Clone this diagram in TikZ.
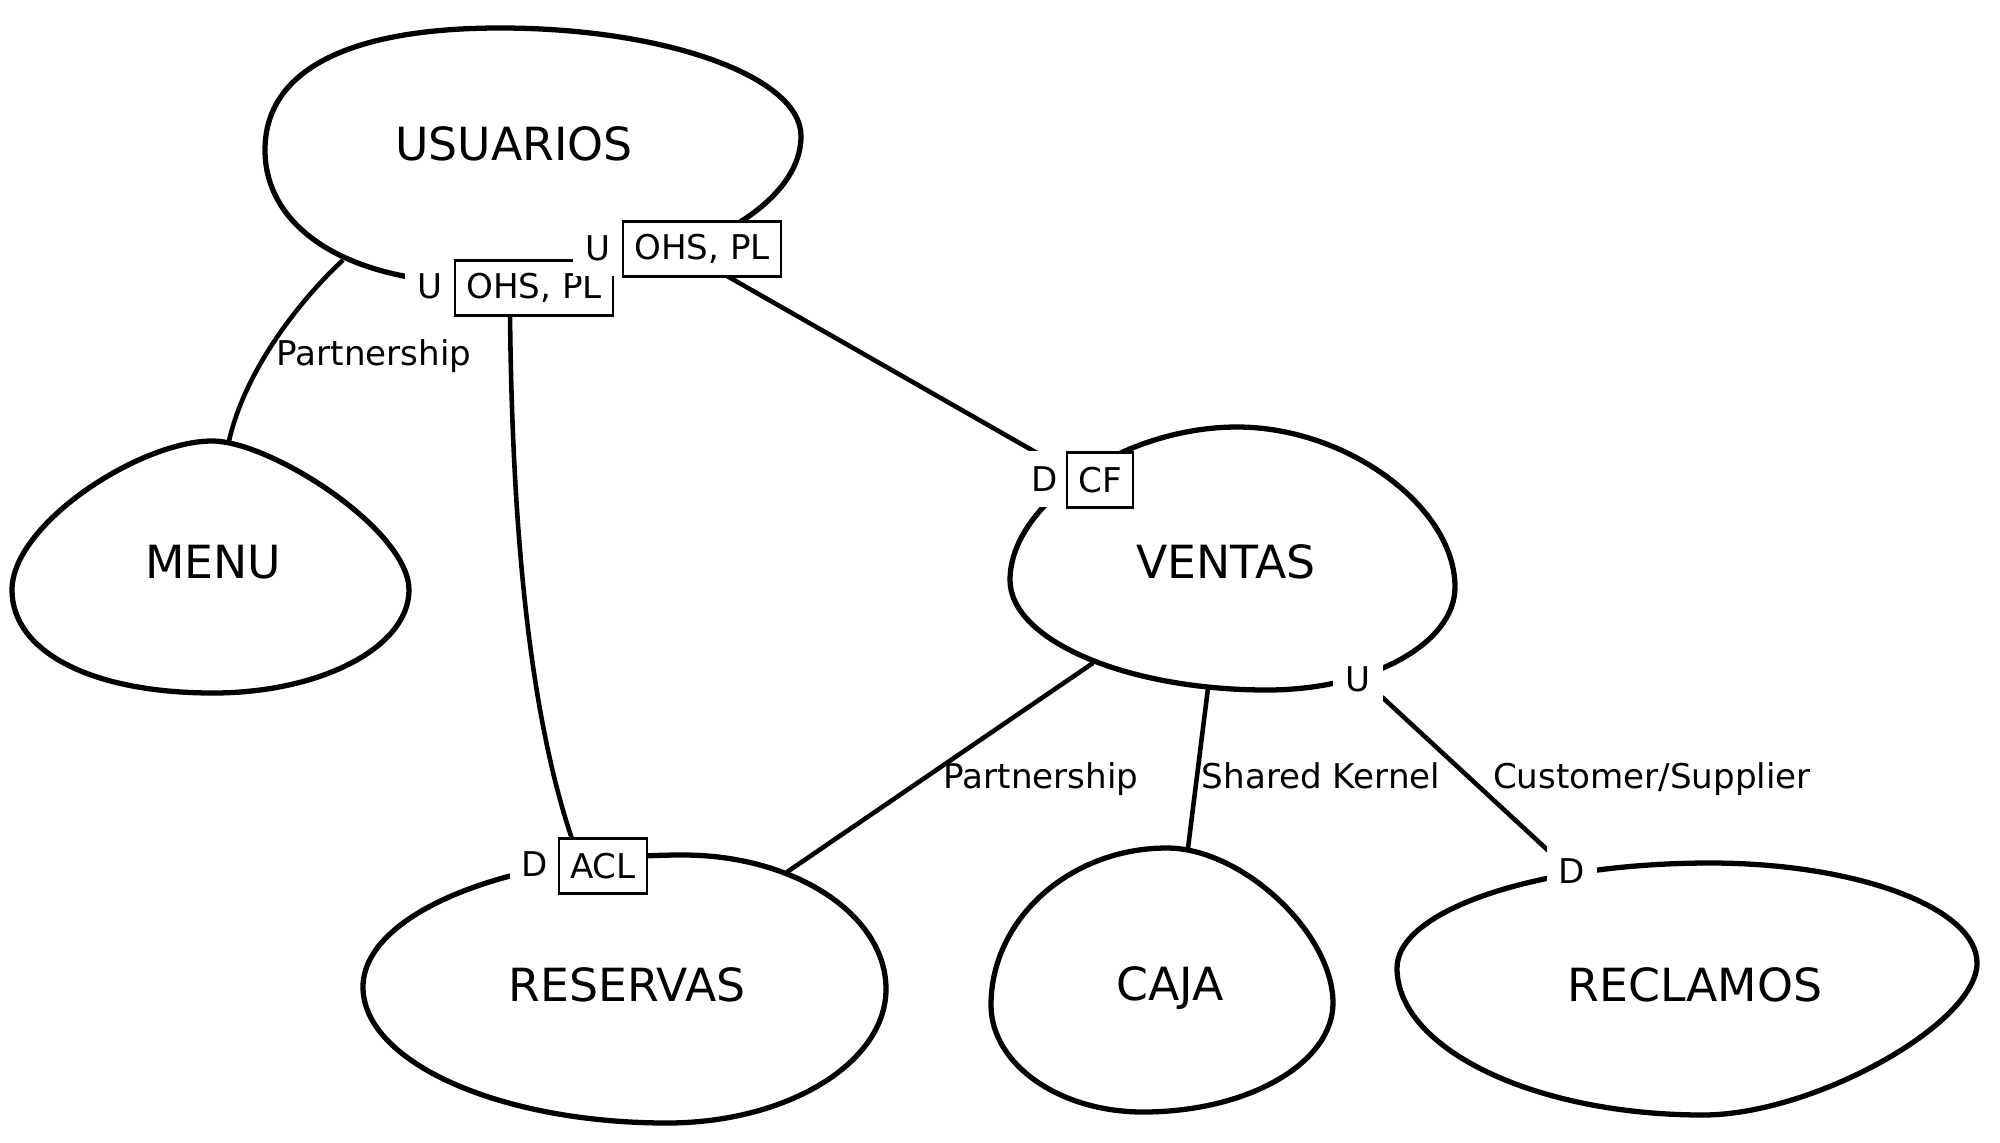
\documentclass[tikz,border=0pt]{standalone}
\usepackage{fontspec}
\setmainfont{DejaVu Sans}
\tikzset{
  context/.style={line width=1.5pt},
  ctxname/.style={font=\fontsize{13}{15}\selectfont},
  relation/.style={line width=1.3pt},
  rellabel/.style={font=\fontsize{9.7}{11}\selectfont, inner sep=0pt},
  role/.style={fill=white, font=\fontsize{9.7}{11}\selectfont, minimum width=0.5cm, minimum height=0.56cm, inner sep=0pt},
  patbox/.style={draw, line width=0.65pt, fill=white, font=\fontsize{9.7}{11}\selectfont, minimum height=0.55cm, inner xsep=0.115cm, inner ysep=0pt}
}
\begin{document}
\begin{tikzpicture}[x=0.01cm, y=-0.01cm]

        \useasboundingbox (0,0) rectangle (2000,1142);

        \draw[context] (500,28) .. controls (666,28) and (801,77) .. (801,136) .. controls (801,217) and (657,283) .. (480,283) .. controls (351,283) and (265,230) .. (265,150) .. controls (265,71) and (347,28) .. (500,28) -- cycle;
        \draw[context] (212,441) .. controls (271,441) and (409,530) .. (409,590) .. controls (409,647) and (321,693) .. (213,693) .. controls (92,693) and (12,652) .. (12,590) .. controls (12,524) and (140,441) .. (212,441) -- cycle;
        \draw[context] (1237,427) .. controls (1347,427) and (1455,507) .. (1455,587) .. controls (1455,644) and (1370,690) .. (1267,690) .. controls (1126,690) and (1010,640) .. (1010,580) .. controls (1010,504) and (1124,427) .. (1237,427) -- cycle;
        \draw[context] (683,855) .. controls (795,855) and (886,915) .. (886,989) .. controls (886,1063) and (787,1123) .. (667,1123) .. controls (500,1123) and (363,1062) .. (363,987) .. controls (363,914) and (507,855) .. (683,855) -- cycle;
        \draw[context] (1167,848) .. controls (1242,848) and (1333,933) .. (1333,1003) .. controls (1333,1063) and (1248,1112) .. (1143,1112) .. controls (1059,1112) and (991,1064) .. (991,1005) .. controls (991,919) and (1070,848) .. (1167,848) -- cycle;
        \draw[context] (1710,863) .. controls (1857,863) and (1977,908) .. (1977,963) .. controls (1977,1024) and (1813,1115) .. (1703,1115) .. controls (1535,1115) and (1397,1049) .. (1397,968) .. controls (1397,910) and (1538,863) .. (1710,863) -- cycle;

        \coordinate (usrMenu) at (343,260);
        \coordinate (menuUsr) at (229,441);
        \coordinate (usrRes) at (510,315);
        \coordinate (resUsr) at (572,839);
        \coordinate (usrVen) at (727,276);
        \coordinate (venUsr) at (1037,453);
        \coordinate (venRes) at (1093,663);
        \coordinate (resVen) at (787,872);
        \coordinate (venCaja) at (1208,688);
        \coordinate (cajaVen) at (1188,848);
        \coordinate (venRec) at (1382,697);
        \coordinate (recVen) at (1553,855);

        \draw[relation] (usrMenu) .. controls (300,300) and (245,370) .. (menuUsr);
        \draw[relation] (usrRes) .. controls (512,500) and (525,700) .. (resUsr);
        \draw[relation] (usrVen) -- (venUsr);
        \draw[relation] (venRes) -- (resVen);
        \draw[relation] (venCaja) -- (cajaVen);
        \draw[relation] (venRec) -- (recVen);

        \node[role] (usrU1) at (430,286) {U};
        \node[patbox] (usrOhsA) at (534,288) {OHS, PL};
        \node[role] (usrU2) at (598,248) {U};
        \node[patbox] (usrOhsB) at (702,249) {OHS, PL};
        \node[role] (venD) at (1045,479) {D};
        \node[patbox] (venCf) at (1100,480) {CF};
        \node[role] (venU) at (1358,679) {U};
        \node[role] (recD) at (1572,871) {D};
        \node[role] (resD) at (535,864) {D};
        \node[patbox] (resAcl) at (603,866) {ACL};

        \node[ctxname] (usuarios) at (514,144) {USUARIOS};
        \node[ctxname] (menu) at (213,562) {MENU};
        \node[ctxname] (ventas) at (1226,562) {VENTAS};
        \node[ctxname] (reservas) at (627,985) {RESERVAS};
        \node[ctxname] (caja) at (1170,988) {CAJA};
        \node[ctxname] (reclamos) at (1695,985) {RECLAMOS};

        \node[rellabel, anchor=west] (menuRel) at (276,356) {Partnership};
        \node[rellabel] (resRel) at (1041,779) {Partnership};
        \node[rellabel] (cajaRel) at (1321,776) {Shared Kernel};
        \node[rellabel] (recRel) at (1652,779) {Customer/Supplier};

      \end{tikzpicture}
\end{document}
